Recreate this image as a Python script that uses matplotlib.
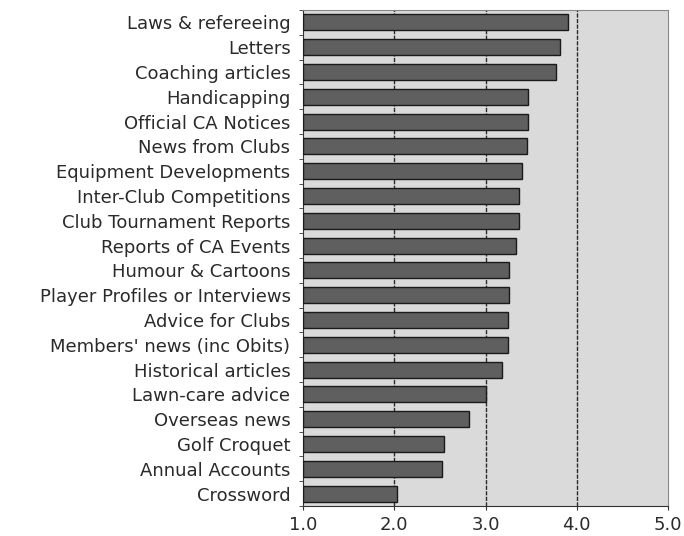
import numpy as np
import matplotlib.pyplot as plt

# survey topics, top to bottom as printed
topics = ['Laws & refereeing', 'Letters', 'Coaching articles', 'Handicapping',
          'Official CA Notices', 'News from Clubs', 'Equipment Developments',
          'Inter-Club Competitions', 'Club Tournament Reports', 'Reports of CA Events',
          'Humour & Cartoons', 'Player Profiles or Interviews', 'Advice for Clubs',
          "Members' news (inc Obits)", 'Historical articles', 'Lawn-care advice',
          'Overseas news', 'Golf Croquet', 'Annual Accounts', 'Crossword']
scores = [3.90, 3.82, 3.77, 3.47, 3.47, 3.45, 3.40, 3.37, 3.37, 3.33,
          3.26, 3.26, 3.25, 3.25, 3.18, 3.00, 2.82, 2.54, 2.52, 2.03]
xticks = [1.0, 2.0, 3.0, 4.0, 5.0]

fig = plt.figure(figsize=(6.84, 5.36), dpi=100)
ax = fig.add_axes([303/684, 1 - 506/536, 365/684, 496/536])
ax.set_facecolor('#dadada')

y = np.arange(len(topics))
ax.barh(y, [s - 1.0 for s in scores], left=1.0, height=0.65,
        color='#5f5f5f', edgecolor='#1a1a1a', linewidth=1.0, zorder=3)

for v in xticks[1:-1]:
    ax.axvline(v, color='#2a2a2a', lw=1.0, ls=(0, (3, 1)), zorder=2)

ax.set_xlim(1.0, 5.0)
ax.set_ylim(len(topics) - 0.5, -0.5)
ax.set_xticks(xticks)
ax.set_xticklabels(['%.1f' % v for v in xticks], fontsize=13, color='#2a2a2a')
ax.set_yticks(y)
ax.set_yticklabels(topics, fontsize=13, color='#2a2a2a')
ax.set_yticks(np.arange(len(topics) + 1) - 0.5, minor=True)
ax.tick_params(axis='y', which='major', length=0, pad=9)
ax.tick_params(axis='y', which='minor', length=3, color='#333333')
ax.tick_params(axis='x', length=3, color='#333333', pad=4)

for side in ['top', 'right']:
    ax.spines[side].set_color('#888888')
    ax.spines[side].set_linestyle((0, (2, 1)))
for side in ['left', 'bottom']:
    ax.spines[side].set_color('#333333')

fig.savefig('out.png', dpi=100, facecolor='white')
